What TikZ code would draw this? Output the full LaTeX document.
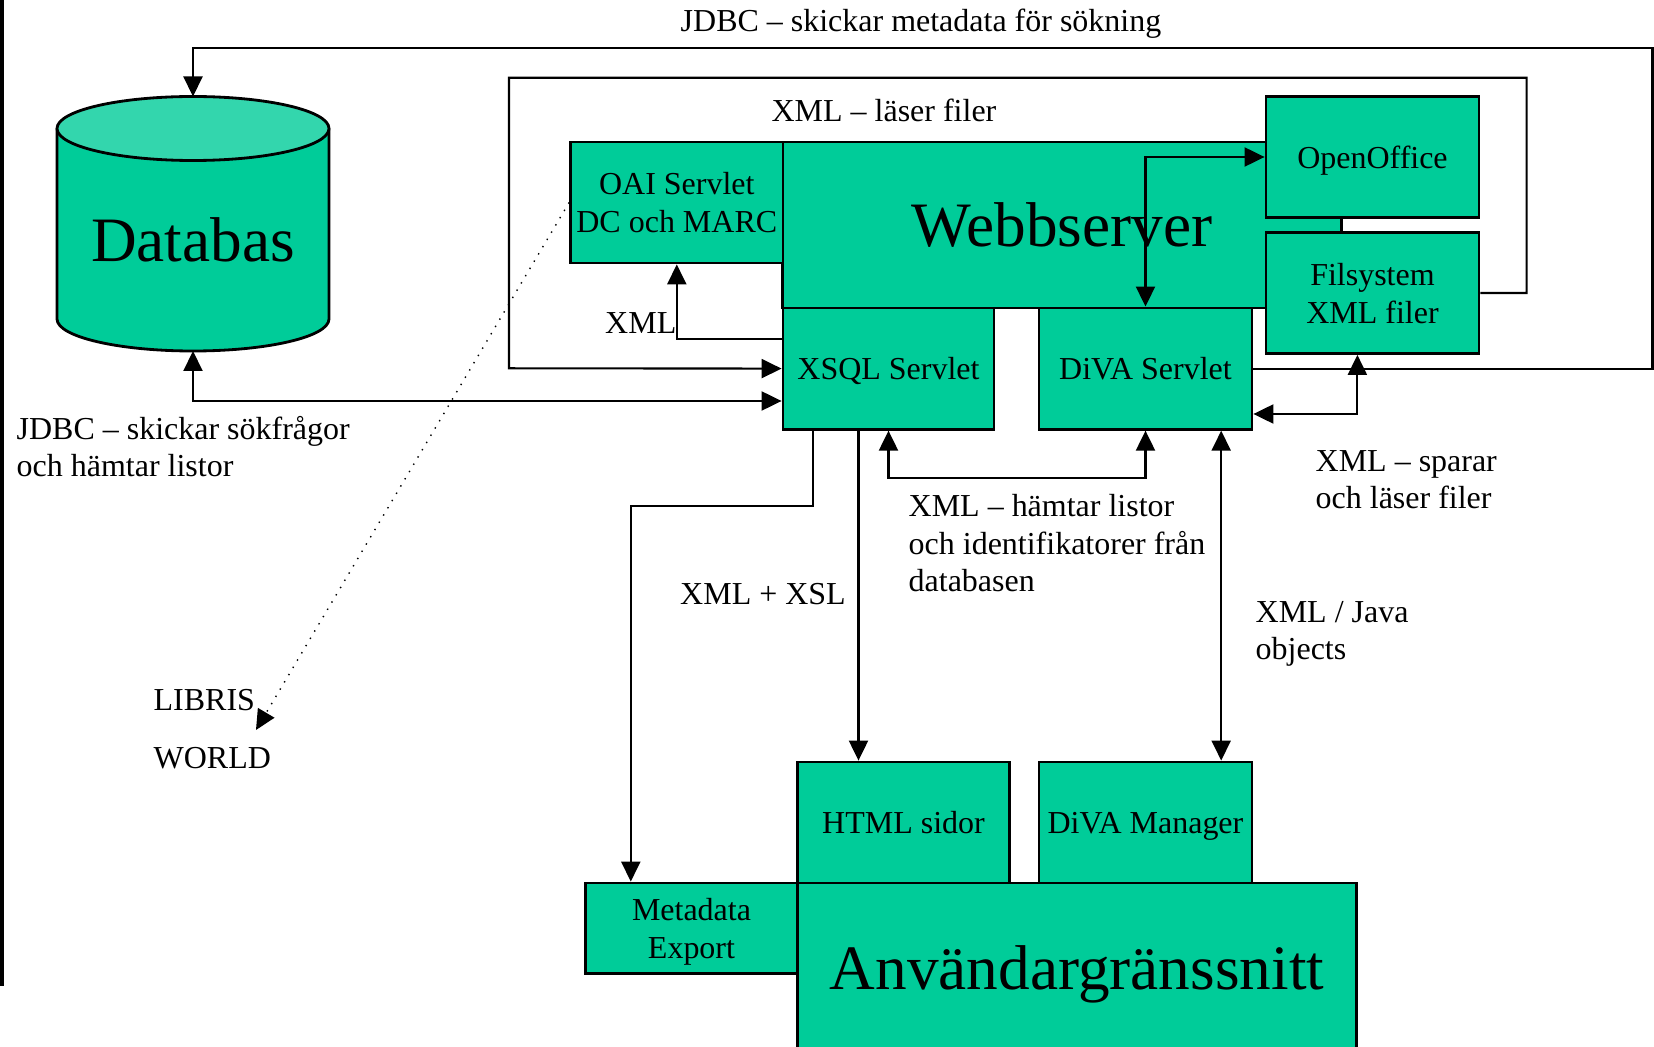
\documentclass[tikz,border=0pt]{standalone}
\usepackage{fontspec}
\setmainfont{Liberation Serif}
\usepackage{tikz}
\usetikzlibrary{arrows.meta}

\definecolor{seagreen}{RGB}{0,204,153}
\definecolor{seatop}{RGB}{51,214,173}
\newcommand{\txtfont}{\fontsize{9.1}{10.8}\selectfont}
\newcommand{\bigfont}{\fontsize{18}{20}\selectfont}

\begin{document}
\begin{tikzpicture}[x=0.1mm,y=-0.1mm,
    >={Triangle[length=2mm,width=1.9mm]},
    srvbox/.style={rectangle,fill=seagreen,draw=black,line width=0.8pt,inner sep=0pt,text depth=0pt,align=center,font=\txtfont},
    conn/.style={line width=0.6pt},
    lbl/.style={inner sep=0pt,align=left,font=\txtfont}]
	\useasboundingbox (0,0) rectangle (1654,1047);

	% edge on the left
	\draw[line width=1pt] (1.75,0) -- (1.75,986);

	% Databas
	\fill[seagreen] (57,128.5) -- (57,319) arc[start angle=180,end angle=360,x radius=13.6mm,y radius=3.2mm] -- (329,128.5) -- cycle;
	\draw[line width=0.8pt] (57,128.5) -- (57,319) arc[start angle=180,end angle=360,x radius=13.6mm,y radius=3.2mm] -- (329,128.5);
	\filldraw[fill=seatop,line width=0.8pt] (193,128.5) ellipse [x radius=13.6mm,y radius=3.2mm];
	\node[font=\bigfont] (db) at (193,240) {Databas};
	\coordinate (dbtop) at (193,96.5);
	\coordinate (dbbot) at (193,351);

	% server side
	\node[srvbox,font=\bigfont,minimum width=55.85mm,minimum height=16.6mm] (web) at (1062,225) {Webbserver};
	\node[srvbox,minimum width=21.25mm,minimum height=12.1mm] (oai) at (676.8,202.5) {OAI Servlet\\DC och MARC};
	\node[srvbox,minimum width=21.3mm,minimum height=12.05mm] (office) at (1372.5,157) {OpenOffice};
	\node[srvbox,minimum width=21.3mm,minimum height=12.1mm] (filsys) at (1372.5,293) {Filsystem\\XML filer};
	\node[srvbox,minimum width=21.1mm,minimum height=12.13mm] (xsql) at (888.5,368.6) {XSQL Servlet};
	\node[srvbox,minimum width=21.3mm,minimum height=12.13mm] (divas) at (1145.5,368.6) {DiVA Servlet};

	% user side
	\node[srvbox,minimum width=21.2mm,minimum height=12.1mm] (html) at (903.5,822.5) {HTML sidor};
	\node[srvbox,minimum width=21.3mm,minimum height=12.1mm] (manager) at (1145.5,822.5) {DiVA Manager};
	\node[srvbox,minimum width=21.2mm,minimum height=9.06mm] (export) at (691.5,928.3) {Metadata\\Export};
	\node[srvbox,font=\bigfont,minimum width=55.9mm,minimum height=17mm] (gui) at (1077,968) {Användargränssnitt};

	% labels
	\node[lbl,anchor=base] (lmeta) at (921,32) {JDBC – skickar metadata för sökning};
	\node[lbl,anchor=base] (lread) at (884,122) {XML – läser filer};
	\node[lbl,anchor=base west] (ljdbc) at (16,477) {JDBC – skickar sökfrågor\\och hämtar listor};
	\node[lbl,anchor=base east] (lxml) at (677,334) {XML};
	\node[lbl,anchor=base] (lxsl) at (763,605) {XML + XSL};
	\node[lbl,anchor=base west] (lfetch) at (908,592) {XML – hämtar listor\\och identifikatorer från\\databasen};
	\node[lbl,anchor=base west] (lsave) at (1315,509) {XML – sparar\\och läser filer};
	\node[lbl,anchor=base west] (ljava) at (1255,660) {XML / Java\\objects};
	\node[lbl,anchor=base west] (llibris) at (153,711) {LIBRIS};
	\node[lbl,anchor=base west] (lworld) at (153,769) {WORLD};
	\coordinate (libtip) at (256,730);

	% connectors
	\draw[conn,->] (divas.east) -| (1652.5,48.3) -| (dbtop);
	\draw[conn,->] (filsys.east) -| (1526.6,77.7) -| (509,368.3) -- (xsql.west);
	\draw[conn,<->] (dbbot) |- ([yshift=-3.24mm]xsql.west);
	\draw[conn,->] ([yshift=2.99mm]xsql.west) -| (oai.south);
	\draw[conn,<->] (office.west) -| (divas.north);
	\draw[conn,<->] ([yshift=-4.54mm]divas.east) -| ([xshift=-1.51mm]filsys.south);
	\draw[conn,<->] (xsql.south) -- ++(0,47.4) -| (divas.south);
	\draw[conn,->] ([xshift=-3mm]xsql.south) -- ([xshift=-3mm]xsql.south |- html.north);
	\draw[conn,->] ([xshift=-7.57mm]xsql.south) -- ++(0,75.7) -| ([xshift=-6.07mm]export.north);
	\draw[conn,<->] ([xshift=7.57mm]divas.south) -- ([xshift=7.57mm]divas.south |- manager.north);
	\draw[line width=0.4pt,dotted,->] (oai.west) -- (libtip);
\end{tikzpicture}
\end{document}
